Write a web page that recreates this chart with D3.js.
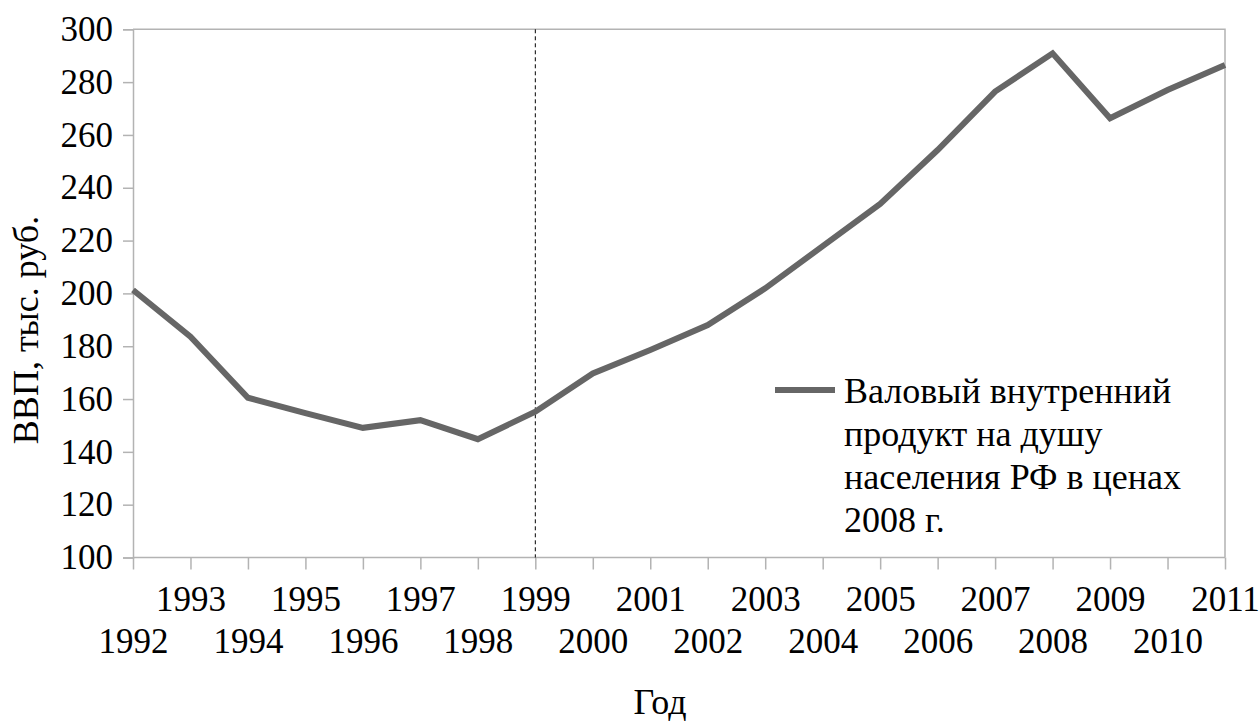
<!DOCTYPE html>
<html>
<head>
<meta charset="utf-8">
<script src="https://cdn.jsdelivr.net/npm/d3@7"></script>
<style>
  body { margin: 0; background: #fff; }
</style>
</head>
<body>
<script>
const years = [1992, 1993, 1994, 1995, 1996, 1997, 1998, 1999, 2000, 2001,
               2002, 2003, 2004, 2005, 2006, 2007, 2008, 2009, 2010, 2011];
const gdp = [201.3, 183.6, 160.5, 154.7, 149.1, 152.0, 144.8, 155.2, 169.7, 178.6,
             188.0, 201.9, 217.9, 233.9, 254.3, 276.4, 290.9, 266.3, 277.0, 286.5];
const yTicks = [100, 120, 140, 160, 180, 200, 220, 240, 260, 280, 300];
const markYear = 1999;
const legendLines = ["Валовый внутренний", "продукт на душу", "населения РФ в ценах", "2008 г."];

const width = 1260;
const height = 724;
const pLeft = 133, pRight = 1225, pTop = 29.3, pBottom = 557.5;
const FONT = '"Liberation Serif", "Times New Roman", Tinos, monospace';

const svg = d3.select("body").append("svg")
    .attr("width", width)
    .attr("height", height)
    .style("font-family", FONT);

const x = d3.scalePoint().domain(years).range([pLeft, pRight]);
const y = d3.scaleLinear().domain([100, 300]).range([pBottom, pTop]);

// plot border (top/right)
svg.append("path")
    .attr("d", `M${pLeft},${pTop}H${pRight}V${pBottom}`)
    .attr("fill", "none")
    .attr("stroke", "#b3b3b3")
    .attr("stroke-width", 1.5);

// y axis
const yAxis = svg.append("g")
    .attr("transform", `translate(${pLeft},0)`)
    .call(d3.axisLeft(y).tickValues(yTicks).tickSize(10).tickPadding(10));
yAxis.attr("font-family", null).attr("font-size", null);
yAxis.selectAll("line, path").attr("stroke", "#b3b3b3").attr("stroke-width", 1.5);
yAxis.selectAll("text")
    .attr("font-family", FONT)
    .style("font-family", FONT)
    .style("font-size", "35px")
    .attr("fill", "#000");

// x axis
const xAxis = svg.append("g")
    .attr("transform", `translate(0,${pBottom})`)
    .call(d3.axisBottom(x).tickSize(12).tickFormat(d => d));
xAxis.attr("font-family", null).attr("font-size", null);
xAxis.select(".domain").attr("d", `M${pLeft},0H${pRight}`);
xAxis.selectAll("line, path").attr("stroke", "#b3b3b3").attr("stroke-width", 1.5);
xAxis.selectAll("text")
    .attr("font-family", FONT)
    .style("font-family", FONT)
    .style("font-size", "35px")
    .attr("fill", "#000")
    .attr("dy", null)
    .attr("y", (d, i) => i % 2 === 0 ? 95 : 53);

// dashed marker
svg.append("line")
    .attr("x1", x(markYear)).attr("x2", x(markYear))
    .attr("y1", pTop).attr("y2", pBottom)
    .attr("stroke", "#000")
    .attr("stroke-width", 1)
    .attr("stroke-dasharray", "4,3");

// line
const line = d3.line()
    .x((d, i) => x(years[i]))
    .y(d => y(d));
svg.append("path")
    .datum(gdp)
    .attr("fill", "none")
    .attr("stroke", "#666666")
    .attr("stroke-width", 6)
    .attr("stroke-linejoin", "miter")
    .attr("d", line);

// legend
svg.append("line")
    .attr("x1", 775).attr("x2", 835)
    .attr("y1", 390).attr("y2", 390)
    .attr("stroke", "#666666")
    .attr("stroke-width", 6);
svg.append("text")
    .attr("x", 844)
    .attr("y", 403)
    .style("font-family", FONT)
    .style("font-size", "36px")
    .selectAll("tspan")
    .data(legendLines)
    .enter()
    .append("tspan")
    .attr("x", 844)
    .attr("dy", (d, i) => i === 0 ? 0 : 43)
    .text(d => d);

// axis titles
svg.append("text")
    .attr("transform", "translate(38,330) rotate(-90)")
    .attr("text-anchor", "middle")
    .style("font-family", FONT)
    .style("font-size", "36px")
    .text("ВВП, тыс. руб.");

svg.append("text")
    .attr("x", 660)
    .attr("y", 714)
    .attr("text-anchor", "middle")
    .style("font-family", FONT)
    .style("font-size", "36px")
    .text("Год");
</script>
</body>
</html>
